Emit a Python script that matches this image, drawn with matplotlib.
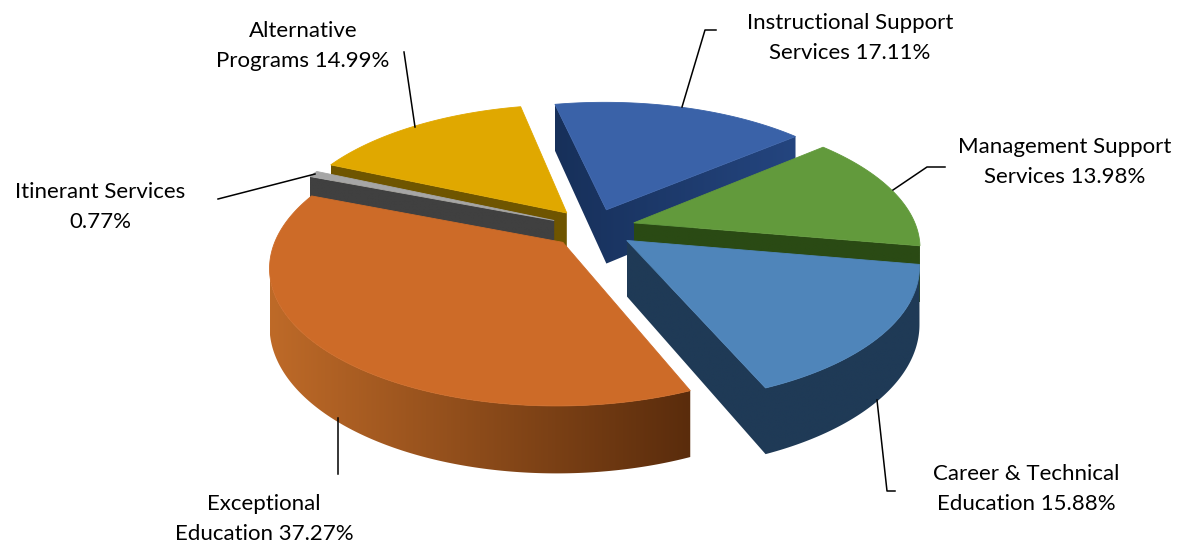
#!/usr/bin/env python3
"""Exploded 3D pie of education spending shares, drawn with polygons."""

import matplotlib
matplotlib.use('Agg')
import matplotlib.pyplot as plt
from matplotlib.colors import LinearSegmentedColormap
from matplotlib.patches import Polygon
import numpy as np

# Slices run clockwise from the start angle
label_heads = ['Instructional Support\nServices', 'Management Support\nServices',
               'Career & Technical\nEducation', 'Exceptional\nEducation',
               'Itinerant Services\n', 'Alternative\nPrograms']
shares = [17.11, 13.98, 15.88, 37.27, 0.77, 14.99]

top_colors = ['#3A62A8', '#629A3C', '#4F85BA', '#CD6B28', '#A6A6A6', '#E0A800']
wall_left = ['#17305A', '#2A4A14', '#1F3A56', '#BE6A28', '#404040', '#6F5500']
wall_right = ['#24457F', '#2A4A14', '#1F3A56', '#5A2C0C', '#404040', '#6F5500']

# Label anchor (centre) and leader line for each slice, in pixels
label_xy = [(850, 38), (1065, 162), (1026, 489), (264, 519), (100, 207), (303, 46)]
leaders = [
    [(716, 30), (705, 30), (682, 107)],
    [(945, 167), (927, 167), (893, 190)],
    [(877, 400), (887, 491), (895, 491)],
    [(338, 418), (338, 474)],
    [(218, 199), (315, 174)],
    [(404, 52), (415, 127)],
]

START_ANGLE = -12.0
EXPLODE = 0.15
CX, CY = 593, 228       # pie centre
RX, RY = 283, 131       # ground radius scale
PERSP = 6.0             # camera distance, in radii
DEPTH = 55              # wall height

fig = plt.figure(figsize=(11.83, 5.44), dpi=100, facecolor='white')
ax = fig.add_axes([0, 0, 1, 1])


def project(gx, gy, drop=0.0):
    """Ground coordinates (radius 1) to pixels, with simple perspective."""
    s = PERSP / (PERSP + gy)
    return CX + RX * gx * s, CY - RY * gy * s + drop * s


def fill_wall(chain, left, right, xmin, xmax, z):
    """Paint a wall below a chain of ground points, shaded left to right."""
    upper = [project(*p) for p in chain]
    lower = [project(*p, DEPTH) for p in chain[::-1]]
    pts = np.array(upper + lower)
    cmap = LinearSegmentedColormap.from_list('wall', [left, right])
    ramp = np.linspace(0, 1, 256).reshape(1, -1)
    img = ax.imshow(ramp, cmap=cmap, vmin=0, vmax=1, aspect='auto',
                    interpolation='bilinear', zorder=z,
                    extent=(xmin, xmax, pts[:, 1].max() + 1, pts[:, 1].min() - 1))
    clip = Polygon(pts, closed=True, transform=ax.transData)
    img.set_clip_path(clip)


# Build the slices from the shares
edges = START_ANGLE + np.cumsum([0] + shares) * 3.6
wedges = []
for i in range(len(shares)):
    t0, t1 = edges[i], edges[i + 1]
    mid = np.radians((t0 + t1) / 2)
    apex = EXPLODE * np.array([np.sin(mid), np.cos(mid)])
    th = np.radians(np.linspace(t0, t1, max(int(t1 - t0) * 2, 3)))
    rim = apex + np.column_stack([np.sin(th), np.cos(th)])
    wedges.append((i, np.vstack([apex, rim])))

# Far slices first so the near ones cover them
wedges.sort(key=lambda w: -w[1][:, 1].mean())

for order, (i, outline) in enumerate(wedges):
    z = order * 3 + 1
    xs = [project(*p)[0] for p in outline]
    xmin, xmax = min(xs), max(xs)
    # outline runs clockwise, so walls facing the viewer run right to left
    n = len(outline)
    facing = [project(*outline[(k + 1) % n])[0] < project(*outline[k])[0] for k in range(n)]
    first = facing.index(False)
    chain = []
    for k in range(first, first + n + 1):
        k0, k1 = k % n, (k + 1) % n
        if facing[k0] and k < first + n:
            if not chain:
                chain.append(outline[k0])
            chain.append(outline[k1])
        elif chain:
            fill_wall(chain, wall_left[i], wall_right[i], xmin, xmax, z)
            chain = []
    ax.add_patch(Polygon([project(*p) for p in outline], closed=True,
                         facecolor=top_colors[i], edgecolor=top_colors[i],
                         lw=0.6, zorder=z + 1))

# Leader lines and labels
for i in range(len(shares)):
    line = np.array(leaders[i])
    ax.plot(line[:, 0], line[:, 1], color='black', lw=1.1, zorder=30)
    first_line, second_line = label_heads[i].split('\n')
    text = f'{first_line}\n{second_line} {shares[i]:.2f}%'.replace('\n ', '\n')
    ax.text(label_xy[i][0], label_xy[i][1], text, ha='center', va='center',
            fontsize=16, family='Lato', linespacing=1.6, color='black', zorder=31)

ax.set_xlim(0, 1183)
ax.set_ylim(544, 0)
ax.axis('off')

plt.savefig('out.png', dpi=100, facecolor='white')
plt.close()
